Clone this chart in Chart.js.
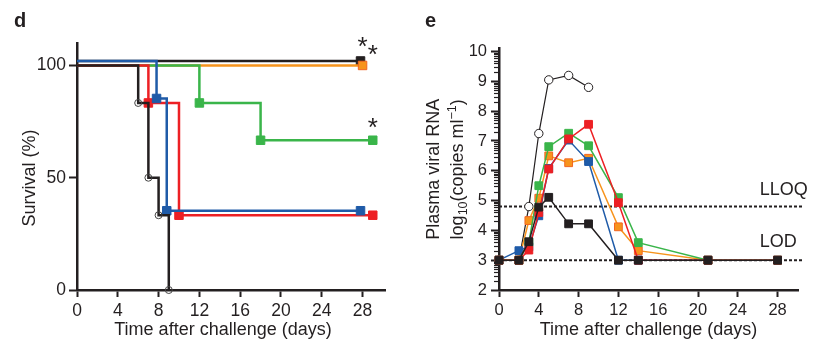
<!DOCTYPE html>
<html>
<head>
<meta charset="utf-8">
<script src="https://cdn.jsdelivr.net/npm/chart.js@4.4.1/dist/chart.umd.min.js"></script>
<style>
  body { margin: 0; background: #fff; }
  #wrap { position: relative; width: 836px; height: 354px; font-family: 'Liberation Sans', Arial, sans-serif; color: #231f20; }
  canvas { position: absolute; top: 0; }
  .panel { position: absolute; top: 10px; font-weight: bold; font-size: 20px; line-height: 20px; }
</style>
</head>
<body>
<div id="wrap">
  <canvas id="survival" width="410" height="354" style="left:0"></canvas>
  <canvas id="viral" width="426" height="354" style="left:410px"></canvas>
  <div class="panel" style="left:14px">d</div>
  <div class="panel" style="left:425px">e</div>
</div>
<script>
// ---- panel d: survival (step points: day, % surviving) ----
const survTicksX = [0, 4, 8, 12, 16, 20, 24, 28];
const survTicksY = [0, 50, 100];
const ctrlDays = [0, 6, 7, 8, 9];
const ctrlSurv = [100, 83.3, 50, 33.3, 0];
const blueDays = [0, 7.8, 8.8, 27.8];     // drawn slightly offset in the figure
const blueSurv = [102, 85.3, 35.3, 35.3];
const redDays = [0, 7, 10, 29];
const redSurv = [100, 83.3, 33.3, 33.3];
const greenDays = [0, 12, 18, 29];
const greenSurv = [100, 83.3, 66.7, 66.7];
const orangeDays = [0, 28];
const orangeSurv = [100, 100];
const blackDays = [0, 27.8];
const blackSurv = [102, 102];
const stars = [[28, 110], [29, 106.5], [29, 74]];

// ---- panel e: plasma viral RNA, log10 copies/ml ----
const viralTicksX = [0, 4, 8, 12, 16, 20, 24, 28];
const viralTicksY = [2, 3, 4, 5, 6, 7, 8, 9, 10];
const viralDays = [0, 2, 3, 4, 5, 7, 9, 12, 14, 21, 28];
const blackRNA  = [3, 3, 3.62, 4.78, 5.11, 4.22, 4.22, 3, 3, 3, 3];
const redRNA    = [3, 3, 3.34, 4.6, 6.06, 7.07, 7.56, 4.93, 3, 3, 3];
const greenRNA  = [3, 3, 3.6, 5.5, 6.81, 7.26, 6.84, 5.1, 3.59, 3, 3];
const blueRNA   = [3, 3.32, 3.45, 4.49, 6.08, 7.03, 6.31, 3, 3, 3, 3];
const orangeRNA = [3, 3, 4.33, 5.08, 6.5, 6.27, 6.42, 4.12, 3.32, 3, 3];
const ctrlDaysE = [0, 2, 3, 4, 5, 7, 9];
const ctrlRNA   = [3, 3, 4.8, 7.25, 9.05, 9.2, 8.8];
const lloq = 4.8;
const lod = 3;
const limitLabels = [['LLOQ', 26.2, 5.19], ['LOD', 26.2, 3.45]];

const ink = '#231f20';
const family = "'Liberation Sans', Arial, sans-serif";
const BLUE = '#1f5ba8', RED = '#ed2024', GREEN = '#3ab54a', ORANGE = '#f7941d', ORANGE_EDGE = '#f26522';

const pts = (xs, ys) => xs.map((x, i) => ({ x, y: ys[i] }));

function axis(min, max, ticks, size, tickLen, fontSize, pad, title) {
  return {
    type: 'linear', min, max,
    afterBuildTicks: s => { s.ticks = ticks.map(v => ({ value: v })); },
    afterFit: s => { if (s.isHorizontal()) s.height = size; else s.width = size; },
    border: { color: ink, width: 2.5 },
    grid: { drawOnChartArea: false, tickLength: tickLen, tickWidth: 2, tickColor: ink },
    ticks: { color: ink, font: { size: fontSize, family }, padding: pad, maxRotation: 0, autoSkip: false },
    title: title ? { display: true, text: title.text, color: ink, font: { size: 18, family }, padding: title.padding } : { display: false }
  };
}

// ---------- d ----------
function km(label, xs, ys, color, style, radii, extra) {
  return Object.assign({
    label, data: pts(xs, ys), stepped: 'before', borderColor: color, borderWidth: 2.5,
    pointStyle: style, pointRadius: radii, pointBackgroundColor: color, pointBorderColor: color,
    pointBorderWidth: 1, clip: false
  }, extra || {});
}

const survPlugin = {
  id: 'survExtras',
  afterDraw(chart) {
    const { ctx, chartArea, scales: { x, y } } = chart;
    ctx.save();
    ctx.fillStyle = ink;
    ctx.textAlign = 'center';
    // significance stars
    ctx.font = '26px ' + family;
    ctx.textBaseline = 'alphabetic';
    stars.forEach(([d, s]) => ctx.fillText('*', x.getPixelForValue(d), y.getPixelForValue(s) + 12));
    // axis titles (placed as in the figure, not centred on the plot area)
    ctx.font = '18px ' + family;
    ctx.textBaseline = 'middle';
    ctx.fillText('Time after challenge (days)', chartArea.left + 146, 330);
    ctx.translate(30, chartArea.top + 135);
    ctx.rotate(-Math.PI / 2);
    ctx.fillText('Survival (%)', 0, 0);
    ctx.restore();
  }
};

new Chart(document.getElementById('survival'), {
  type: 'line',
  data: {
    datasets: [
      km('Control', ctrlDays, ctrlSurv, ink, 'circle', [0, 3.5, 3.5, 3.5, 3.5],
         { pointBackgroundColor: 'rgba(255,255,255,0)', pointBorderColor: '#444' }),
      km('Blue', blueDays, blueSurv, BLUE, 'rect', [0, 6, 6, 6]),
      km('Red', redDays, redSurv, RED, 'rect', [0, 6, 6, 6]),
      km('Green', greenDays, greenSurv, GREEN, 'rect', [0, 6, 6, 6]),
      km('Orange', orangeDays, orangeSurv, ORANGE, 'rect', [0, 6], { pointBorderColor: ORANGE_EDGE }),
      km('Black', blackDays, blackSurv, ink, 'rect', [0, 6])
    ]
  },
  options: {
    responsive: false, animation: false,
    layout: { padding: { left: 0, right: 25, top: 43, bottom: 0 } },
    plugins: { legend: { display: false }, tooltip: { enabled: false } },
    scales: {
      x: axis(0, 30.2, survTicksX, 64, 7, 17.5, 4, null),
      y: axis(0, 110, survTicksY, 77, 8, 17.5, 3, null)
    }
  },
  plugins: [survPlugin]
});

// ---------- e ----------
function rna(label, xs, ys, color, style, r, extra) {
  return Object.assign({
    label, data: pts(xs, ys), borderColor: color, borderWidth: 1.5, tension: 0,
    pointStyle: style, pointRadius: r, pointBackgroundColor: color, pointBorderColor: color,
    pointBorderWidth: 1, clip: false
  }, extra || {});
}
function limit(label, v) {
  return {
    label, data: [{ x: 0, y: v }, { x: 30.55, y: v }], borderColor: ink, borderWidth: 2,
    borderDash: [3, 2], pointRadius: 0, clip: false
  };
}

const viralPlugin = {
  id: 'viralExtras',
  afterDraw(chart) {
    const { ctx, chartArea, scales: { x, y } } = chart;
    ctx.save();
    // log minor ticks on the y axis
    ctx.strokeStyle = ink;
    ctx.lineWidth = 1.2;
    for (let n = 2; n < 10; n++) {
      for (let k = 2; k <= 9; k++) {
        const py = Math.round(y.getPixelForValue(n + Math.log10(k))) + 0.5;
        ctx.beginPath();
        ctx.moveTo(chartArea.left - 5, py);
        ctx.lineTo(chartArea.left, py);
        ctx.stroke();
      }
    }
    // LLOQ / LOD labels
    ctx.fillStyle = ink;
    ctx.font = '18px ' + family;
    ctx.textAlign = 'left';
    ctx.textBaseline = 'alphabetic';
    limitLabels.forEach(([t, d, v]) => ctx.fillText(t, x.getPixelForValue(d), y.getPixelForValue(v)));
    // y title with sub/superscripts
    const yc = (chartArea.top + chartArea.bottom) / 2;
    const lines = [
      [29, [['Plasma viral RNA', 18, 0]]],
      [53, [['log', 18, 0], ['10', 12.5, 4], ['(copies ml', 18, 0], ['\u22121', 12.5, -7], [')', 18, 0]]]
    ];
    lines.forEach(([bx, segs]) => {
      let total = 0;
      segs.forEach(([t, s]) => { ctx.font = s + 'px ' + family; total += ctx.measureText(t).width; });
      ctx.save();
      ctx.translate(bx, yc);
      ctx.rotate(-Math.PI / 2);
      let cx = -total / 2;
      segs.forEach(([t, s, dy]) => {
        ctx.font = s + 'px ' + family;
        ctx.fillText(t, cx, dy);
        cx += ctx.measureText(t).width;
      });
      ctx.restore();
    });
    ctx.restore();
  }
};

new Chart(document.getElementById('viral'), {
  type: 'line',
  data: {
    datasets: [
      rna('Black', viralDays, blackRNA, ink, 'rect', 5.5),
      rna('Red', viralDays, redRNA, RED, 'rect', 5.5),
      rna('Green', viralDays, greenRNA, GREEN, 'rect', 5.5),
      rna('Blue', viralDays, blueRNA, BLUE, 'rect', 5.5),
      rna('Orange', viralDays, orangeRNA, ORANGE, 'rect', 5.5, { pointBorderColor: ORANGE_EDGE }),
      rna('Control', ctrlDaysE, ctrlRNA, ink, 'circle', 4.2, { borderWidth: 1.2, pointBackgroundColor: '#fff' }),
      limit('LLOQ', lloq),
      limit('LOD', lod)
    ]
  },
  options: {
    responsive: false, animation: false,
    layout: { padding: { left: 0, right: 38, top: 48.6, bottom: 0 } },
    plugins: { legend: { display: false }, tooltip: { enabled: false } },
    scales: {
      x: axis(0, 30.05, viralTicksX, 64, 7, 16.5, 4, { text: 'Time after challenge (days)', padding: { top: 0, bottom: 13 } }),
      y: axis(2, 10.1, viralTicksY, 89, 8, 16.5, 4, null)
    }
  },
  plugins: [viralPlugin]
});
</script>
</body>
</html>
